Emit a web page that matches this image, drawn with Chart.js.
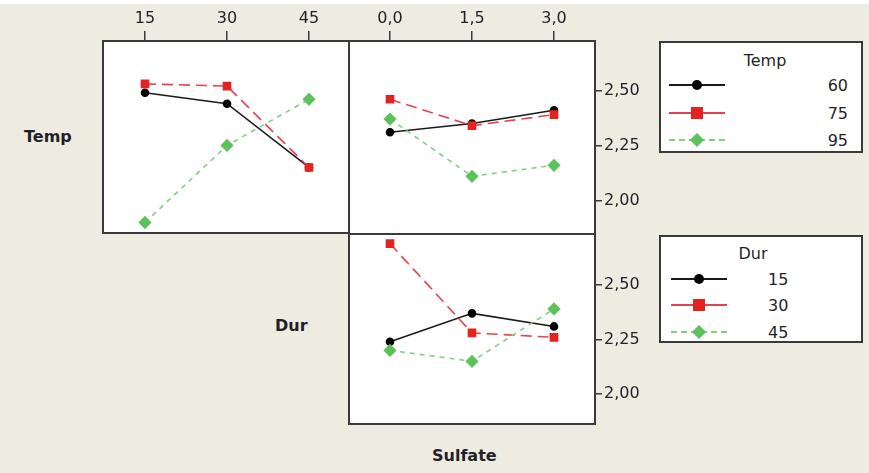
<!DOCTYPE html>
<html>
<head>
<meta charset="utf-8">
<script src="https://cdn.jsdelivr.net/npm/chart.js@4"></script>
<style>
  body{margin:0;width:869px;height:473px;background:#eeebe1;position:relative;overflow:hidden;font-family:"DejaVu Sans",sans-serif;color:#1f1f2a;}
  .strip{position:absolute;left:0;top:0;width:869px;height:4px;background:#fff;}
  .wrap{position:absolute;}
  .title{position:absolute;font-weight:bold;font-size:16px;transform:translateY(-50%);}
  .legend{position:absolute;background:#fff;border:2px solid #3a3a3a;box-sizing:border-box;}
  .lg-title{position:absolute;font-size:16px;transform:translate(-50%,-50%);}
  .lg-row{position:absolute;left:0;width:100%;height:0;}
  .lg-line{position:absolute;height:0;top:-1px;}
  .lg-mark{position:absolute;}
  .lg-val{position:absolute;font-size:16px;transform:translateY(-50%);}
</style>
</head>
<body>
<div class="strip"></div>

<div class="wrap" style="left:102px;top:0;width:248px;height:234px"><canvas id="pA" width="248" height="234"></canvas></div>
<div class="wrap" style="left:348px;top:0;width:300px;height:235px"><canvas id="pB" width="300" height="235"></canvas></div>
<div class="wrap" style="left:348px;top:233px;width:300px;height:192px"><canvas id="pC" width="300" height="192"></canvas></div>

<div class="title" style="left:24px;top:136px">Temp</div>
<div class="title" style="left:275px;top:325px">Dur</div>
<div class="title" style="left:432px;top:455px">Sulfate</div>

<div id="legTemp" class="legend" style="left:659px;top:41px;width:204px;height:112px"></div>
<div id="legDur" class="legend" style="left:659px;top:235px;width:204px;height:108px"></div>

<script>
// factor levels
const durLevels = [15, 30, 45];
const sulfateLevels = [0, 1.5, 3];
const tempLabels = ['60', '75', '95'];
const durLabels = ['15', '30', '45'];
const yTicks = [2.0, 2.25, 2.5];

// mean response, Temp x Dur
const temp60ByDur = [2.49, 2.44, 2.15];
const temp75ByDur = [2.53, 2.52, 2.15];
const temp95ByDur = [1.90, 2.25, 2.46];

// mean response, Temp x Sulfate
const temp60BySulfate = [2.31, 2.35, 2.41];
const temp75BySulfate = [2.46, 2.34, 2.39];
const temp95BySulfate = [2.37, 2.11, 2.16];

// mean response, Dur x Sulfate
const dur15BySulfate = [2.24, 2.37, 2.31];
const dur30BySulfate = [2.69, 2.28, 2.26];
const dur45BySulfate = [2.20, 2.15, 2.39];

const styles = [
  {line:'#1a1a1a', fill:'#000000', dash:[], point:'circle', r:3.5},
  {line:'#e0454f', fill:'#e2231f', dash:[11,6], point:'rect', r:5},
  {line:'#7fcf7f', fill:'#5cc25c', dash:[5,5], point:'rectRot', r:5.5}
];

function makeSets(xs, series, labels){
  return series.map((ys, i) => {
    const s = styles[i];
    return {
      label: labels[i],
      data: xs.map((x, k) => ({x: x, y: ys[k]})),
      borderColor: s.line,
      backgroundColor: s.fill,
      pointBackgroundColor: s.fill,
      pointBorderColor: s.fill,
      pointStyle: s.point,
      pointRadius: s.r,
      borderWidth: 1.6,
      borderDash: s.dash,
      tension: 0,
      clip: false,
      order: 2 - i
    };
  });
}

// white plotting area with a dark frame
const frame = {
  id: 'frame',
  beforeDraw(chart){
    const a = chart.chartArea, c = chart.ctx;
    c.save();
    c.fillStyle = '#ffffff';
    c.fillRect(a.left, a.top, a.right - a.left, a.bottom - a.top);
    c.restore();
  },
  afterDatasetsDraw(chart){
    const a = chart.chartArea, c = chart.ctx;
    c.save();
    c.strokeStyle = '#3a3a3a';
    c.lineWidth = 2;
    c.strokeRect(a.left + 1, a.top + 1, a.right - a.left - 2, a.bottom - a.top - 2);
    c.restore();
  }
};

const tickFont = {family: 'DejaVu Sans', size: 16};

function noPad(s){
  s.paddingTop = 0; s.paddingBottom = 0; s.paddingLeft = 0; s.paddingRight = 0;
}

function xScale(levels, min, max, show, label){
  return {
    type: 'linear', position: 'top', display: show, min: min, max: max,
    afterBuildTicks: s => { s.ticks = levels.map(v => ({value: v})); },
    afterFit: s => { s.height = show ? 40 : 0; noPad(s); },
    grid: {drawOnChartArea: false, drawTicks: true, tickLength: 9, color: '#3a3a3a', lineWidth: 1.5},
    border: {display: false},
    ticks: {font: tickFont, color: '#1f1f2a', padding: 3, maxRotation: 0, callback: label}
  };
}
function yScale(min, max, show){
  return {
    type: 'linear', position: 'right', display: show, min: min, max: max,
    afterBuildTicks: s => { s.ticks = yTicks.map(v => ({value: v})); },
    afterFit: s => { s.width = show ? 52 : 0; noPad(s); },
    grid: {drawOnChartArea: false, drawTicks: true, tickLength: 6, color: '#3a3a3a', lineWidth: 1.5},
    border: {display: false},
    ticks: {font: tickFont, color: '#1f1f2a', padding: 2,
            callback: v => v.toFixed(2).replace('.', ',')}
  };
}

const common = {
  responsive: false, animation: false,
  layout: {padding: 0, autoPadding: false},
  plugins: {legend: {display: false}, tooltip: {enabled: false}}
};

new Chart(document.getElementById('pA'), {
  type: 'line',
  data: {datasets: makeSets(durLevels, [temp60ByDur, temp75ByDur, temp95ByDur], tempLabels)},
  options: Object.assign({}, common, {scales: {
    x: xScale(durLevels, 7.134, 52.5, true, v => String(v)),
    y: yScale(1.8477, 2.7295, false)
  }}),
  plugins: [frame]
});

new Chart(document.getElementById('pB'), {
  type: 'line',
  data: {datasets: makeSets(sulfateLevels, [temp60BySulfate, temp75BySulfate, temp95BySulfate], tempLabels)},
  options: Object.assign({}, common, {scales: {
    x: xScale(sulfateLevels, -0.768, 3.768, true, v => Number(v).toFixed(1).replace('.', ',')),
    y: yScale(1.843, 2.7295, true)
  }}),
  plugins: [frame]
});

new Chart(document.getElementById('pC'), {
  type: 'line',
  data: {datasets: makeSets(sulfateLevels, [dur15BySulfate, dur30BySulfate, dur45BySulfate], durLabels)},
  options: Object.assign({}, common, {scales: {
    x: xScale(sulfateLevels, -0.768, 3.768, false, v => String(v)),
    y: yScale(1.8578, 2.7385, true)
  }}),
  plugins: [frame]
});

// legend boxes
function markerHTML(i){
  const s = styles[i];
  if (s.point === 'circle') return '<div class="lg-mark" style="left:23px;top:-5px;width:10px;height:10px;border-radius:50%;background:' + s.fill + '"></div>';
  if (s.point === 'rect') return '<div class="lg-mark" style="left:22px;top:-6px;width:12px;height:12px;background:' + s.fill + '"></div>';
  return '<div class="lg-mark" style="left:23px;top:-5px;width:10px;height:10px;transform:rotate(45deg);background:' + s.fill + '"></div>';
}
function buildLegend(el, title, titleX, titleY, labels, rowYs, lineX, valX, valAlignRight){
  let h = '<div class="lg-title" style="left:' + titleX + 'px;top:' + titleY + 'px">' + title + '</div>';
  labels.forEach((lab, i) => {
    const s = styles[i];
    const bs = i === 2 ? 'dashed' : 'solid';
    h += '<div class="lg-row" style="top:' + rowYs[i] + 'px">' +
      '<div class="lg-line" style="left:' + lineX + 'px;width:56px;border-top:2px ' + bs + ' ' + s.line + '"></div>' +
      '<div style="position:absolute;left:' + lineX + 'px;top:0">' + markerHTML(i) + '</div>' +
      '<div class="lg-val" style="' + (valAlignRight ? 'right:' + valX + 'px' : 'left:' + valX + 'px') + '">' + lab + '</div></div>';
  });
  el.innerHTML = h;
}
buildLegend(document.getElementById('legTemp'), 'Temp', 104, 17, tempLabels, [42, 70, 97], 8, 13, true);
buildLegend(document.getElementById('legDur'), 'Dur', 92, 16, durLabels, [42, 68, 95], 10, 107, false);
</script>
</body>
</html>
